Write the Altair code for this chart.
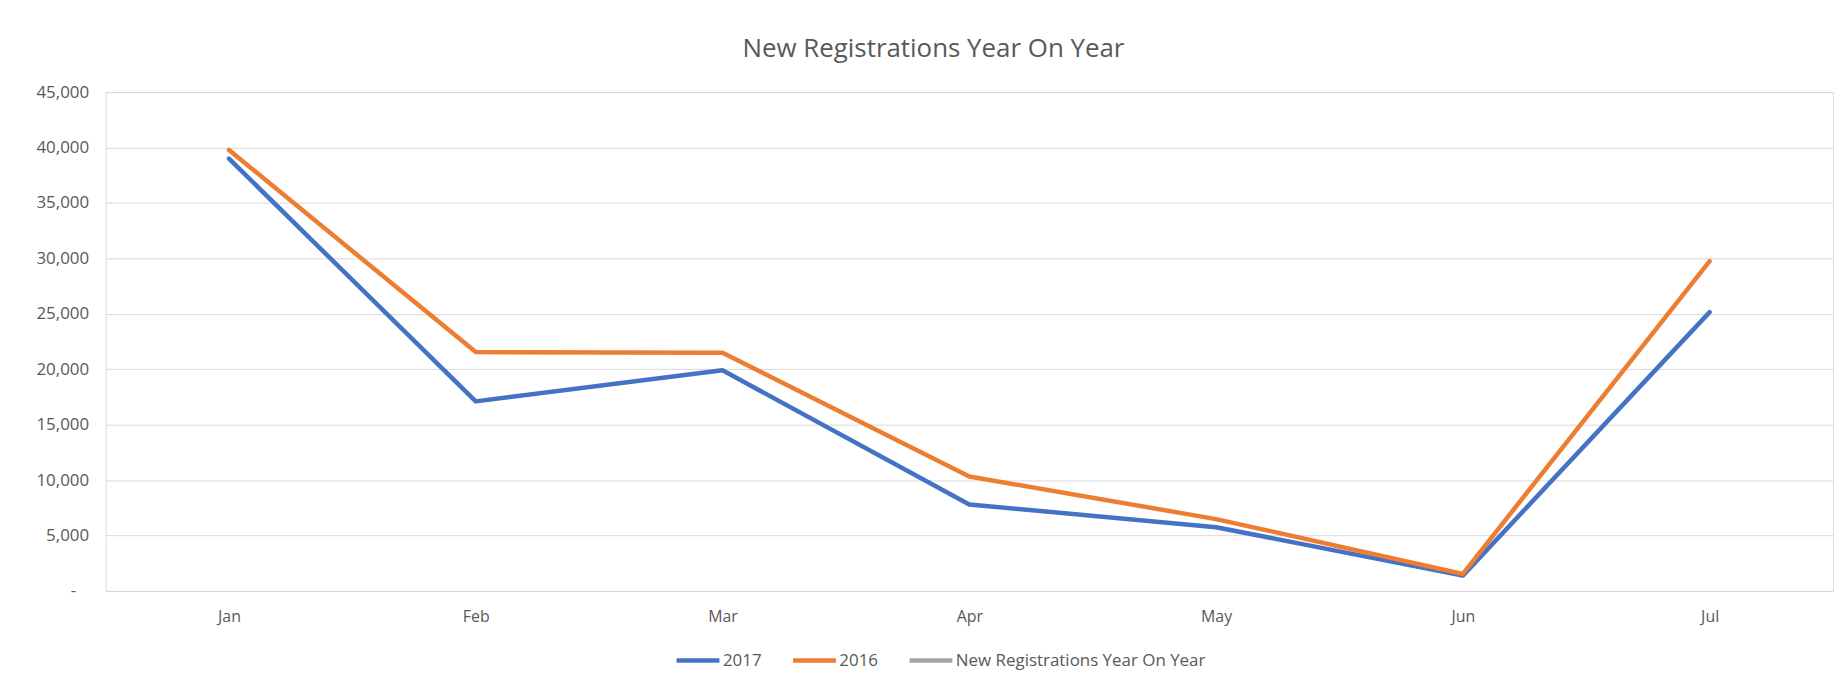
import altair as alt
import pandas as pd

months = ["Jan", "Feb", "Mar", "Apr", "May", "Jun", "Jul"]
reg_2017 = [39000, 17100, 19900, 7800, 5750, 1380, 25150]
reg_2016 = [39780, 21550, 21480, 10320, 6480, 1530, 29750]
series_names = ["2017", "2016", "New Registrations Year On Year"]
series_colors = ["#4472C4", "#ED7D31", "#A5A5A5"]
y_ticks = [0, 5000, 10000, 15000, 20000, 25000, 30000, 35000, 40000, 45000]

rows = []
for m, v in zip(months, reg_2017):
    rows.append({"Month": m, "Series": "2017", "Value": v})
for m, v in zip(months, reg_2016):
    rows.append({"Month": m, "Series": "2016", "Value": v})
df = pd.DataFrame(rows)

text_color = "#595959"
font = "Open Sans"

chart = (
    alt.Chart(df)
    .mark_line(strokeWidth=4.5, strokeCap="round", strokeJoin="round")
    .encode(
        x=alt.X(
            "Month:N",
            sort=months,
            scale=alt.Scale(type="point", padding=0.5),
            axis=alt.Axis(
                title=None,
                labelAngle=0,
                labelFontSize=16,
                labelFont=font,
                labelColor=text_color,
                labelPadding=18,
                ticks=False,
                domain=False,
                grid=False,
            ),
        ),
        y=alt.Y(
            "Value:Q",
            scale=alt.Scale(domain=[0, 45000], nice=False, zero=True),
            axis=alt.Axis(
                title=None,
                values=y_ticks,
                labelExpr="datum.value == 0 ? '-' : format(datum.value, ',')",
                labelFontSize=17,
                labelFont=font,
                labelColor=text_color,
                labelPadding={"condition": {"test": "datum.value === 0", "value": 30}, "value": 17},
                ticks=False,
                domain=False,
                grid=True,
                gridColor="#D9D9D9",
                gridWidth=1,
            ),
        ),
        color=alt.Color(
            "Series:N",
            scale=alt.Scale(domain=series_names, range=series_colors),
            sort=series_names,
            legend=alt.Legend(
                title=None,
                orient="none",
                direction="horizontal",
                legendX=571,
                legendY=547,
                symbolType="stroke",
                symbolSize=1849,
                symbolStrokeWidth=4.5,
                labelFontSize=17,
                labelFont=font,
                labelColor=text_color,
                labelOffset=1,
                labelLimit=0,
                columnPadding=22,
                padding=0,
            ),
        ),
    )
    .properties(
        width=1735,
        height=501,
        title=alt.TitleParams(
            text="New Registrations Year On Year",
            fontSize=26,
            font=font,
            fontWeight="normal",
            color=text_color,
            anchor="middle",
            baseline="alphabetic",
            offset=0,
            dx=-36,
        ),
        autosize=alt.AutoSizeParams(type="none"),
        padding={"left": 98, "top": 83, "right": 7, "bottom": 86},
    )
    .configure_view(stroke=None)
    .configure(background="white")
)

chart.save("out.html", embed_options={"renderer": "svg", "actions": False})
